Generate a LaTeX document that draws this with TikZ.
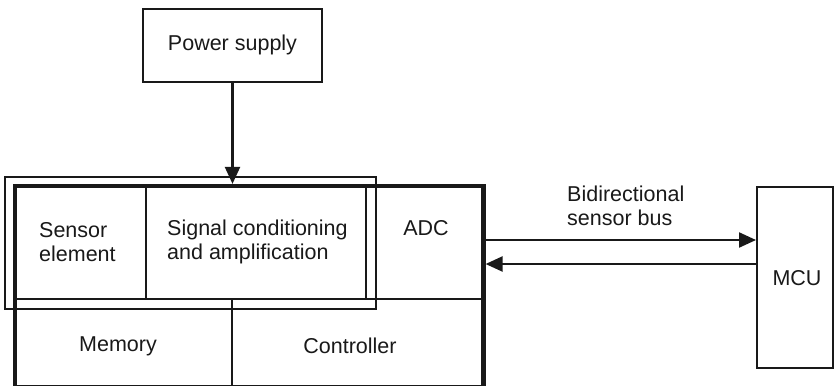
\documentclass[tikz,border=0pt]{standalone}
\usepackage{fontspec}
\setmainfont{Liberation Sans}
\usetikzlibrary{arrows.meta, positioning}

\begin{document}
\begin{tikzpicture}[x=1pt, y=-1pt,
        box/.style={rectangle, draw=black!90, line width=1.6pt, inner sep=0pt},
        thinline/.style={draw=black!90, line width=1.3pt},
        chipline/.style={draw=black!90, line width=4.2pt},
        lab/.style={font=\fontsize{21.5}{24}\selectfont, text=black!90, inner sep=0pt, align=left},
        arr/.style={-{Triangle[length=17pt,width=15pt]}, line width=2.2pt, black!90}]
      \useasboundingbox (0,0) rectangle (834,385);
      \node[box, minimum width=179pt, minimum height=73pt] (power) at (232.5,45.5) {};
      \node[lab] (powerlab) at (232.5,45) {Power supply};
      % sensor module outline (thin) and sensor chip (thick)
      \node[rectangle, thinline, minimum width=371pt, minimum height=132pt, inner sep=0pt] (module) at (190.5,243) {};
      \node[rectangle, chipline, minimum width=468.5pt, minimum height=201pt, inner sep=0pt] (chip) at (249.25,286.5) {};
      \draw[thinline] (146,186) -- (146,299);
      \draw[thinline] (366,186) -- (366,299);
      \draw[thinline] (15,299) -- (483.5,299);
      \draw[thinline] (232,299) -- (232,387);
      \node[lab, anchor=west] (sensor) at (39,242) {Sensor\\element};
      \node[lab, anchor=west] (signal) at (167,242) {Signal conditioning\\and amplification};
      \node[lab] (adc) at (426,228) {ADC};
      \node[lab] (memory) at (118,346) {Memory};
      \node[lab] (controller) at (350,346) {Controller};
      \node[box, line width=2pt, minimum width=76pt, minimum height=181pt] (mcu) at (795,277.5) {};
      \node[lab] (mculab) at (797,278.5) {MCU};
      \node[lab, anchor=west] (buslab) at (567,206) {Bidirectional\\sensor bus};
      \path (0,240) coordinate (tx) (0,264) coordinate (rx);
      \draw[arr] (power) -- (power.south |- chip.north);
      \draw[arr] (chip.east |- tx) -- (mcu.west |- tx);
      \draw[arr] (mcu.west |- rx) -- (chip.east |- rx);
    \end{tikzpicture}
\end{document}
